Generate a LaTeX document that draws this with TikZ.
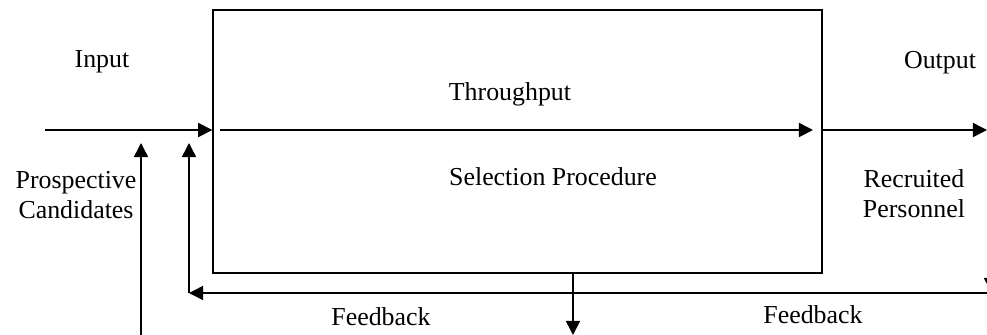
\documentclass[tikz,border=0pt]{standalone}
\usepackage{fontspec}
\setmainfont{Liberation Serif}
\usetikzlibrary{arrows.meta,positioning}

\begin{document}
\begin{tikzpicture}[x=0.025cm, y=-0.025cm,
        every node/.style={font=\fontsize{18.4}{21.3}\selectfont},
        lbl/.style={inner sep=0pt, anchor=base, align=center},
        flow/.style={line width=1.1pt, -{Triangle[length=10pt,width=10pt]}},
        procbox/.style={draw, line width=0.9pt, minimum width=15.225cm,
            minimum height=6.575cm, inner sep=0pt}]
        \useasboundingbox (0,0) rectangle (987,335);
        \clip (0,0) rectangle (987,335);
        % The selection procedure box
        \node[procbox] (proc) at (517.5,141.5) {};
        \node[lbl] (thru) at (510,100) {Throughput};
        \node[lbl] (sel) at (553,185) {Selection Procedure};
        % Labels outside the box
        \node[lbl] (inp) at (102,67) {Input};
        \node[lbl] (outp) at (940,68) {Output};
        \node[lbl] (cand) at (76,218) {Prospective\\Candidates};
        \node[lbl] (recr) at (914,217) {Recruited\\Personnel};
        \node[lbl] (fbA) at (381,325) {Feedback};
        \node[lbl] (fbB) at (813,323) {Feedback};
        % Points the arrows run between
        \coordinate (inS) at (45,130);
        \coordinate (thS) at (220,130);
        \coordinate (thE) at (813,130);
        \coordinate (outE) at (987,130);
        \coordinate (fbR) at (987,293);
        \coordinate (fbL) at (189,293);
        \coordinate (fbT) at (189,143);
        \coordinate (pcB) at (141,335);
        \coordinate (pcT) at (141,143);
        \coordinate (dnS) at (573,273);
        \coordinate (dnE) at (573,335);
        \coordinate (edS) at (991,240);
        \coordinate (edE) at (991,292);
        % Input, throughput and output
        \draw[flow] (inS) -- (inS -| proc.west);
        \draw[flow] (thS) -- (thE);
        \draw[flow] (proc.east |- outE) -- (outE);
        % Feedback loop and candidates
        \draw[flow] (fbR) -- (fbL);
        \draw[flow] (fbL) -- (fbT);
        \draw[flow] (pcB) -- (pcT);
        \draw[flow] (dnS) -- (dnE);
        \draw[flow] (edS) -- (edE);
\end{tikzpicture}
\end{document}
